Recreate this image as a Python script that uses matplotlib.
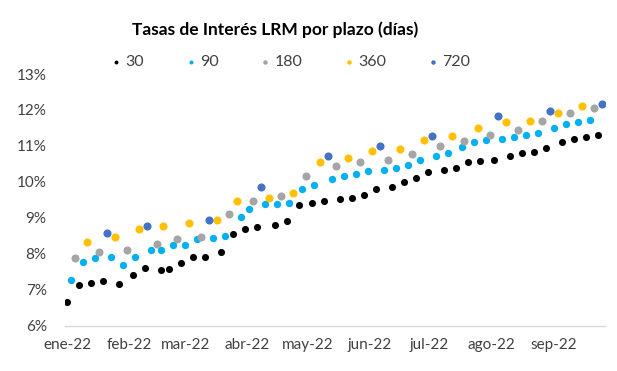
"""
plot.py — Tasas de Interés LRM por plazo (días), scatter by term
"""

import matplotlib
matplotlib.use("Agg")
import matplotlib.pyplot as plt
import matplotlib.dates as mdates
import matplotlib.ticker as mticker
import pandas as pd

# ── Data ────────────────────────────────────────
dates_30 = ["2022-01-01", "2022-01-07", "2022-01-13", "2022-01-19", "2022-01-27",
            "2022-02-03", "2022-02-09", "2022-02-17", "2022-02-21", "2022-02-27",
            "2022-03-05", "2022-03-11", "2022-03-19", "2022-03-25", "2022-03-31",
            "2022-04-06", "2022-04-15", "2022-04-21", "2022-04-27", "2022-05-03",
            "2022-05-09", "2022-05-17", "2022-05-23", "2022-05-29", "2022-06-04",
            "2022-06-12", "2022-06-18", "2022-06-24", "2022-06-30", "2022-07-08",
            "2022-07-14", "2022-07-20", "2022-07-26", "2022-08-02", "2022-08-10",
            "2022-08-16", "2022-08-22", "2022-08-28", "2022-09-05", "2022-09-11",
            "2022-09-17", "2022-09-23"]
rate_30 = [6.65, 7.13, 7.20, 7.24, 7.15, 7.41, 7.60, 7.56, 7.57, 7.75,
           7.90, 7.90, 8.04, 8.54, 8.69, 8.75, 8.80, 8.91, 9.35, 9.41,
           9.48, 9.53, 9.56, 9.64, 9.79, 9.85, 10.00, 10.10, 10.28, 10.34,
           10.40, 10.54, 10.59, 10.61, 10.71, 10.79, 10.82, 10.93, 11.10, 11.20,
           11.24, 11.30]

dates_90 = ["2022-01-03", "2022-01-09", "2022-01-15", "2022-01-23", "2022-01-29",
            "2022-02-04", "2022-02-12", "2022-02-17", "2022-02-23", "2022-03-01",
            "2022-03-07", "2022-03-15", "2022-03-21", "2022-03-29", "2022-04-02",
            "2022-04-10", "2022-04-16", "2022-04-22", "2022-04-28", "2022-05-04",
            "2022-05-13", "2022-05-19", "2022-05-25", "2022-05-31", "2022-06-08",
            "2022-06-14", "2022-06-20", "2022-06-26", "2022-07-04", "2022-07-10",
            "2022-07-17", "2022-07-23", "2022-07-29", "2022-08-06", "2022-08-12",
            "2022-08-18", "2022-08-24", "2022-09-01", "2022-09-07", "2022-09-13",
            "2022-09-19"]
rate_90 = [7.27, 7.77, 7.89, 7.92, 7.68, 7.91, 8.11, 8.11, 8.24, 8.24,
           8.40, 8.45, 8.50, 9.03, 9.25, 9.38, 9.38, 9.40, 9.79, 9.91,
           10.08, 10.16, 10.21, 10.29, 10.33, 10.38, 10.47, 10.61, 10.71, 10.80,
           10.96, 11.12, 11.16, 11.19, 11.24, 11.30, 11.35, 11.49, 11.62, 11.66,
           11.72]

dates_180 = ["2022-01-05", "2022-01-17", "2022-01-31", "2022-02-15", "2022-02-25",
             "2022-03-09", "2022-03-23", "2022-04-04", "2022-04-18", "2022-04-30",
             "2022-05-15", "2022-05-27", "2022-06-10", "2022-06-22", "2022-07-06",
             "2022-07-18", "2022-07-31", "2022-08-14", "2022-08-26", "2022-09-09",
             "2022-09-21"]
rate_180 = [7.89, 8.04, 8.11, 8.26, 8.41, 8.46, 9.12, 9.48, 9.60, 10.17,
            10.44, 10.54, 10.61, 10.78, 11.01, 11.14, 11.31, 11.44, 11.70, 11.91,
            12.06]

dates_360 = ["2022-01-11", "2022-01-25", "2022-02-06", "2022-02-18", "2022-03-03",
             "2022-03-17", "2022-03-27", "2022-04-12", "2022-04-24", "2022-05-07",
             "2022-05-21", "2022-06-02", "2022-06-16", "2022-06-28", "2022-07-12",
             "2022-07-25", "2022-08-08", "2022-08-20", "2022-09-03", "2022-09-15"]
rate_360 = [8.34, 8.46, 8.69, 8.78, 8.85, 8.94, 9.48, 9.56, 9.68, 10.56,
            10.67, 10.86, 10.92, 11.16, 11.27, 11.50, 11.66, 11.69, 11.92, 12.11]

dates_720 = ["2022-01-21", "2022-02-10", "2022-03-13", "2022-04-08", "2022-05-11",
             "2022-06-06", "2022-07-02", "2022-08-04", "2022-08-30", "2022-09-25"]
rate_720 = [8.57, 8.78, 8.95, 9.85, 10.71, 11.01, 11.27, 11.82, 11.98, 12.17]

MONTHS_ES = ["ene", "feb", "mar", "abr", "may", "jun", "jul", "ago", "sep", "oct", "nov", "dic"]
# ────────────────────────────────────────────────

plt.rcParams["font.family"] = ["Lato", "DejaVu Sans"]

series = [
    ("30", dates_30, rate_30, "#000000", 26),
    ("90", dates_90, rate_90, "#00B0F0", 28),
    ("180", dates_180, rate_180, "#A5A5A5", 34),
    ("360", dates_360, rate_360, "#FFC000", 34),
    ("720", dates_720, rate_720, "#4472C4", 34),
]

fig = plt.figure(figsize=(6.17, 3.71), dpi=100)
ax = fig.add_axes([0.105, 0.122, 0.876, 0.6785])

handles = []
for i, (label, dates, rates, color, size) in enumerate(series):
    h = ax.scatter(pd.to_datetime(dates), rates, s=size, color=color,
                   linewidths=0, label=label, zorder=3 + i)
    handles.append(h)

# Axes limits and ticks
start = pd.Timestamp("2022-01-01")
ax.set_xlim(start - pd.Timedelta(hours=30), start + pd.Timedelta(days=268.75))
ax.set_ylim(6, 13)
ax.yaxis.set_major_locator(mticker.MultipleLocator(1))
ax.yaxis.set_major_formatter(mticker.FuncFormatter(lambda v, _: f"{v:.0f}%"))
ax.xaxis.set_major_locator(mdates.MonthLocator())
ax.xaxis.set_major_formatter(mticker.FuncFormatter(
    lambda v, _: f"{MONTHS_ES[mdates.num2date(v).month - 1]}-{mdates.num2date(v).strftime('%y')}"))
ax.tick_params(axis="both", length=0, labelsize=11, colors="#404040")
ax.tick_params(axis="x", pad=9)
ax.tick_params(axis="y", pad=13)

for side in ["top", "right", "left"]:
    ax.spines[side].set_visible(False)
ax.spines["bottom"].set_color("#D9D9D9")
ax.spines["bottom"].set_linewidth(1)

fig.text(275 / 617, 1 - 30 / 371, "Tasas de Interés LRM por plazo (días)",
         ha="center", va="center", fontsize=12.5, fontweight="bold", color="#000000")

fig.legend(handles=handles, ncol=5, loc="center", bbox_to_anchor=(291 / 617, 1 - 62 / 371),
           frameon=False, fontsize=11.5, markerscale=0.55, handlelength=0.6,
           handletextpad=0.3, columnspacing=2.6, labelcolor="#404040")

fig.savefig("out.png", dpi=100)
plt.close(fig)
